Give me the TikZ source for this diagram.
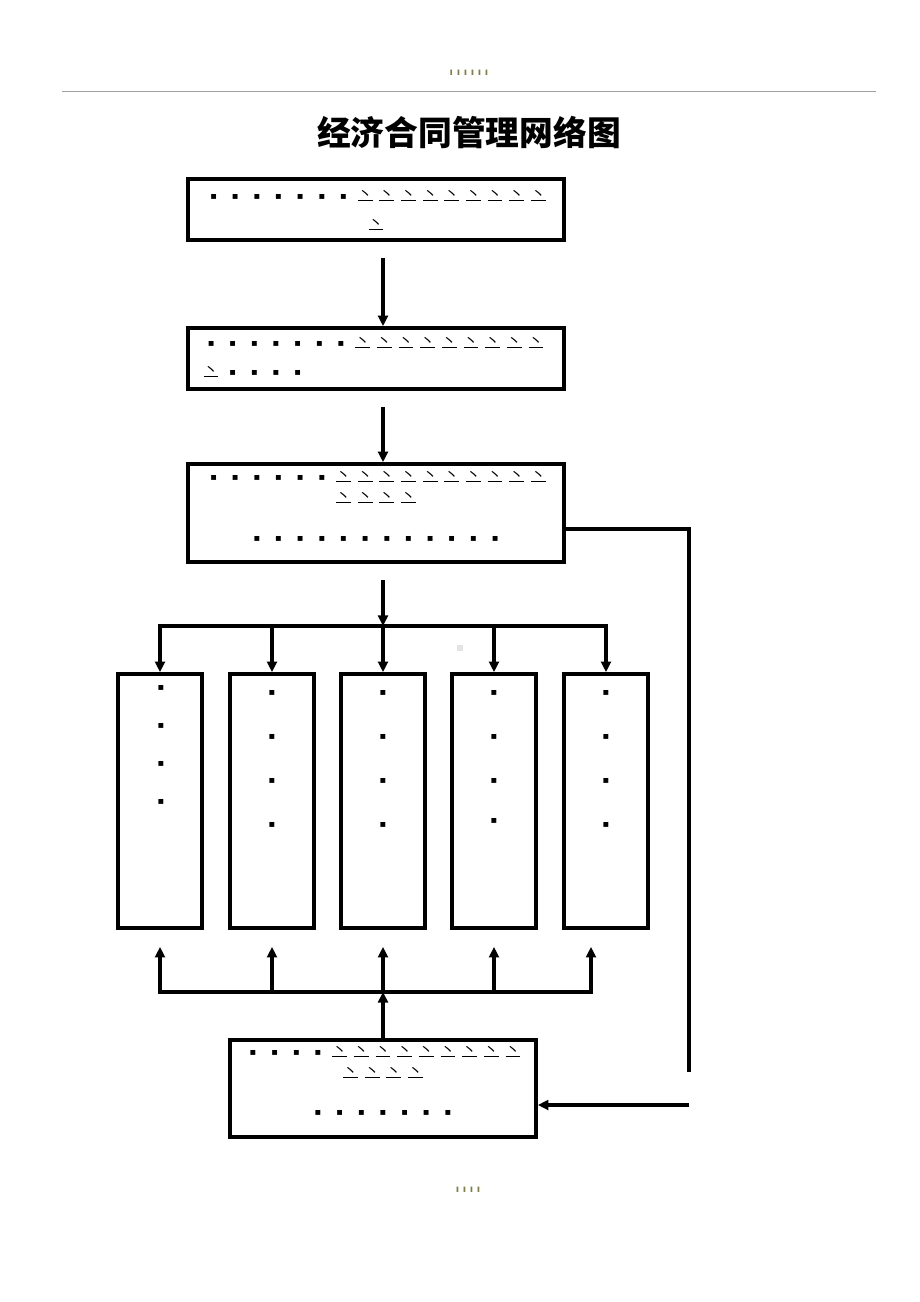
\documentclass[tikz,border=0pt]{standalone}
\usepackage{fontspec}
\usepackage{tikz}
\usetikzlibrary{arrows.meta}
\newfontfamily\cjk{Noto Sans CJK SC}
\newfontfamily\sym{DejaVu Sans}
\definecolor{myheadcolor}{HTML}{7F7F45}
\definecolor{myrulecolor}{HTML}{A0A0A0}
\definecolor{myspeckcolor}{HTML}{E4E4E4}
\newcommand{\mysq}{\makebox[15.4pt]{\sym\fontsize{7pt}{7pt}\selectfont ▪}}
\newcommand{\mymark}{\makebox[15.4pt]{\cjk\rlap{\rule[-1.6pt]{1em}{0.7pt}}丶}}
\newcommand{\mytick}{\makebox[5pt]{\sym\bfseries ı}}
\tikzset{
  mybox/.style={draw, line width=2.6pt, rectangle, inner sep=0pt},
  myline/.style={line width=2.4pt},
  myarrow/.style={line width=2.4pt, -{Triangle[length=7.5pt,width=7pt]}},
  mytext/.style={inner sep=0pt}
}

\begin{document}
\begin{tikzpicture}[x=0.025cm, y=-0.025cm]%
\useasboundingbox (0,0) rectangle (920,1302);%
\node[mytext] (hdr) at (469,73) {\fontsize{7pt}{7pt}\selectfont\color{myheadcolor}\mytick\mytick\mytick\mytick\mytick\mytick};%
\draw[myrulecolor, line width=0.7pt] (62,91) -- (876,91);%
\node[mytext] (title) at (469,132) {\fontsize{24pt}{24pt}\selectfont\cjk\bfseries 经济合同管理网络图};%
\node[mybox, minimum width=9.4cm, minimum height=1.525cm] (box1) at (376,209.5) {};%
\node[mybox, minimum width=9.4cm, minimum height=1.525cm] (box2) at (376,358.5) {};%
\node[mybox, minimum width=9.4cm, minimum height=2.45cm] (box3) at (376,513) {};%
\node[mybox, minimum width=2.1cm, minimum height=6.35cm] (col1) at (160,801) {};%
\node[mybox, minimum width=2.1cm, minimum height=6.35cm] (col2) at (272,801) {};%
\node[mybox, minimum width=2.1cm, minimum height=6.35cm] (col3) at (383,801) {};%
\node[mybox, minimum width=2.1cm, minimum height=6.35cm] (col4) at (494,801) {};%
\node[mybox, minimum width=2.1cm, minimum height=6.35cm] (col5) at (606,801) {};%
\node[mybox, minimum width=7.65cm, minimum height=2.425cm] (box4) at (383,1088.5) {};%
\node[mytext, anchor=base] (t11) at (376,199) {\fontsize{10.5pt}{10.5pt}\selectfont \mysq\mysq\mysq\mysq\mysq\mysq\mysq\mymark\mymark\mymark\mymark\mymark\mymark\mymark\mymark\mymark};%
\node[mytext, anchor=base] (t12) at (376,228) {\fontsize{10.5pt}{10.5pt}\selectfont \mymark};%
\node[mytext, anchor=base west] (t21) at (200,346) {\fontsize{10.5pt}{10.5pt}\selectfont \mysq\mysq\mysq\mysq\mysq\mysq\mysq\mymark\mymark\mymark\mymark\mymark\mymark\mymark\mymark\mymark};%
\node[mytext, anchor=base west] (t22) at (200,375) {\fontsize{10.5pt}{10.5pt}\selectfont \mymark\mysq\mysq\mysq\mysq};%
\node[mytext, anchor=base] (t31) at (376,480) {\fontsize{10.5pt}{10.5pt}\selectfont \mysq\mysq\mysq\mysq\mysq\mysq\mymark\mymark\mymark\mymark\mymark\mymark\mymark\mymark\mymark\mymark};%
\node[mytext, anchor=base] (t32) at (376,501) {\fontsize{10.5pt}{10.5pt}\selectfont \mymark\mymark\mymark\mymark};%
\node[mytext, anchor=base] (t33) at (376,541) {\fontsize{10.5pt}{10.5pt}\selectfont \mysq\mysq\mysq\mysq\mysq\mysq\mysq\mysq\mysq\mysq\mysq\mysq};%
\node[mytext] (d11) at (161,688) {\mysq};%
\node[mytext] (d12) at (161,726) {\mysq};%
\node[mytext] (d13) at (161,764) {\mysq};%
\node[mytext] (d14) at (161,802) {\mysq};%
\node[mytext] (d21) at (272,693) {\mysq};%
\node[mytext] (d22) at (272,737) {\mysq};%
\node[mytext] (d23) at (272,781) {\mysq};%
\node[mytext] (d24) at (272,825) {\mysq};%
\node[mytext] (d31) at (383,693) {\mysq};%
\node[mytext] (d32) at (383,737) {\mysq};%
\node[mytext] (d33) at (383,781) {\mysq};%
\node[mytext] (d34) at (383,825) {\mysq};%
\node[mytext] (d41) at (494,693) {\mysq};%
\node[mytext] (d42) at (494,737) {\mysq};%
\node[mytext] (d43) at (494,781) {\mysq};%
\node[mytext] (d44) at (494,821) {\mysq};%
\node[mytext] (d51) at (606,693) {\mysq};%
\node[mytext] (d52) at (606,737) {\mysq};%
\node[mytext] (d53) at (606,781) {\mysq};%
\node[mytext] (d54) at (606,825) {\mysq};%
\node[mytext, anchor=base] (t41) at (383,1055) {\fontsize{10.5pt}{10.5pt}\selectfont \mysq\mysq\mysq\mysq\mymark\mymark\mymark\mymark\mymark\mymark\mymark\mymark\mymark};%
\node[mytext, anchor=base] (t42) at (383,1076) {\fontsize{10.5pt}{10.5pt}\selectfont \mymark\mymark\mymark\mymark};%
\node[mytext, anchor=base] (t43) at (383,1115.5) {\fontsize{10.5pt}{10.5pt}\selectfont \mysq\mysq\mysq\mysq\mysq\mysq\mysq};%
\node[fill=myspeckcolor, minimum size=0.15cm, inner sep=0pt] (speck) at (460,648) {};%
\node[mytext] (ftr) at (468,1190) {\fontsize{7pt}{7pt}\selectfont\color{myheadcolor}\mytick\mytick\mytick\mytick};%
\coordinate (j1) at (383,626);%
\coordinate (j2) at (383,992);%
\coordinate (j3) at (591,992);%
\coordinate (r1) at (689,529);%
\coordinate (r2) at (689,1072);%
\coordinate (r3) at (689,1105);%
\draw[myarrow, shorten <=0.4cm] (box1.south -| col3) -- (box2.north -| col3);%
\draw[myarrow, shorten <=0.4cm] (box2.south -| col3) -- (box3.north -| col3);%
\draw[myarrow, shorten <=0.4cm] (box3.south -| col3) -- (j1);%
\draw[myline, line cap=rect] (col1 |- j1) -- (col5 |- j1);%
\draw[myarrow] (col1 |- j1) -- (col1.north);%
\draw[myarrow] (col2 |- j1) -- (col2.north);%
\draw[myarrow] (j1) -- (col3.north);%
\draw[myarrow] (col4 |- j1) -- (col4.north);%
\draw[myarrow] (col5 |- j1) -- (col5.north);%
\draw[myline, line cap=rect] (col1 |- j2) -- (j3);%
\draw[myarrow, shorten >=0.425cm] (col1 |- j2) -- (col1.south);%
\draw[myarrow, shorten >=0.425cm] (col2 |- j2) -- (col2.south);%
\draw[myarrow, shorten >=0.425cm] (j2) -- (col3.south);%
\draw[myarrow, shorten >=0.425cm] (col4 |- j2) -- (col4.south);%
\draw[myarrow, shorten >=0.425cm] (j3) -- (j3 |- col5.south);%
\draw[myarrow] (box4.north) -- (j2);%
\draw[myline] (box3.east |- r1) -- (r1) -- (r2);%
\draw[myarrow] (r3) -- (box4.east |- r3);%
\end{tikzpicture}
\end{document}
